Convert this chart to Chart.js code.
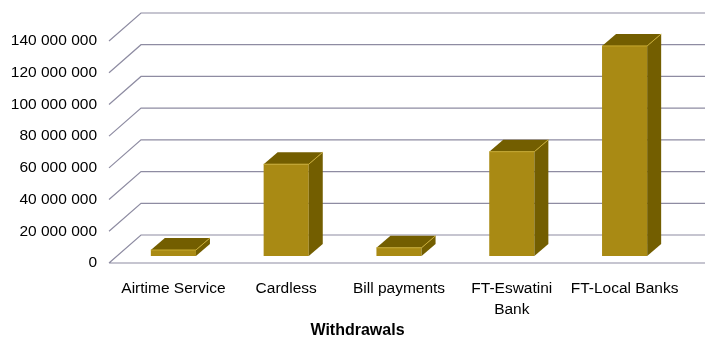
<!DOCTYPE html>
<html>
<head>
<meta charset="utf-8">
<title>Withdrawals</title>
<script src="https://cdn.jsdelivr.net/npm/chart.js@4.4.1/dist/chart.umd.min.js"></script>
<style>
  html, body { margin: 0; padding: 0; background: #fff; }
  #wrap { width: 705px; height: 340px; }
</style>
</head>
<body>
<div id="wrap"><canvas id="withdrawalsChart"></canvas></div>
<script>
// データ
var categories = ['Airtime Service', 'Cardless', 'Bill payments', 'FT-Eswatini Bank', 'FT-Local Banks'];
var withdrawalValues = [3800000, 57900000, 5200000, 65800000, 132500000];
var yTickValues = [0, 20000000, 40000000, 60000000, 80000000, 100000000, 120000000, 140000000];
var axisTitle = 'Withdrawals';

// 3D表現用の奥行き（ピクセル）
var FLOOR_DEPTH = { dx: 32, dy: -28 };   // 床・壁の奥行き
var BAR_SHIFT = { dx: 8, dy: -7 };       // 手前の面から棒の前面まで
var BAR_DEPTH = { dx: 14, dy: -12 };     // 棒の奥行き

var FRONT_COLOR = '#a98a14';
var SHADE_COLOR = '#735e00';
var EDGE_COLOR = 'rgba(206, 176, 52, 0.9)';
var GRID_COLOR = '#8e8ca2';

Chart.defaults.font.family = '"Liberation Sans", Arial, Helvetica, sans-serif';
Chart.defaults.color = '#000';

// 3桁区切り（スペース）
function formatNumber(v) {
  return String(v).replace(/\B(?=(\d{3})+(?!\d))/g, ' ');
}

// 長いラベルを2行に
function wrapLabel(text) {
  if (text.length <= 15) return text;
  var i = text.lastIndexOf(' ');
  return [text.slice(0, i), text.slice(i + 1)];
}

// 奥行きのあるグリッドと棒の上面・側面
var depthPlugin = {
  id: 'depth3d',
  beforeDatasetsDraw: function(chart) {
    var ctx = chart.ctx;
    var area = chart.chartArea;
    var yScale = chart.scales.y;
    ctx.save();
    ctx.strokeStyle = GRID_COLOR;
    ctx.lineWidth = 1.2;
    yScale.ticks.forEach(function(t) {
      var py = yScale.getPixelForValue(t.value);
      var fx = area.left - BAR_SHIFT.dx;
      var fy = py - BAR_SHIFT.dy;
      var bx = fx + FLOOR_DEPTH.dx;
      var by = fy + FLOOR_DEPTH.dy;
      ctx.beginPath();
      ctx.moveTo(fx, fy);
      ctx.lineTo(bx, by);
      ctx.lineTo(chart.width, by);
      if (t.value === 0) {
        ctx.moveTo(fx, fy);
        ctx.lineTo(chart.width, fy);
      }
      ctx.stroke();
    });
    ctx.restore();
  },
  afterDatasetsDraw: function(chart) {
    var ctx = chart.ctx;
    var meta = chart.getDatasetMeta(0);
    ctx.save();
    meta.data.forEach(function(bar) {
      var p = bar.getProps(['x', 'y', 'base', 'width'], true);
      var x0 = p.x - p.width / 2;
      var x1 = p.x + p.width / 2;
      var top = Math.min(p.y, p.base);
      var bottom = Math.max(p.y, p.base);
      var dx = BAR_DEPTH.dx, dy = BAR_DEPTH.dy;

      ctx.fillStyle = SHADE_COLOR;
      // 上面
      ctx.beginPath();
      ctx.moveTo(x0, top);
      ctx.lineTo(x1, top);
      ctx.lineTo(x1 + dx, top + dy);
      ctx.lineTo(x0 + dx, top + dy);
      ctx.closePath();
      ctx.fill();
      // 側面
      ctx.beginPath();
      ctx.moveTo(x1, top);
      ctx.lineTo(x1 + dx, top + dy);
      ctx.lineTo(x1 + dx, bottom + dy);
      ctx.lineTo(x1, bottom);
      ctx.closePath();
      ctx.fill();
      // ハイライトの縁
      ctx.strokeStyle = EDGE_COLOR;
      ctx.lineWidth = 1;
      ctx.beginPath();
      ctx.moveTo(x0, top);
      ctx.lineTo(x1, top);
      ctx.lineTo(x1 + dx, top + dy);
      ctx.stroke();
    });
    ctx.restore();
  }
};

var ctx = document.getElementById('withdrawalsChart').getContext('2d');

var withdrawalsChart = new Chart(ctx, {
  type: 'bar',
  data: {
    labels: categories,
    datasets: [
      {
        label: axisTitle,
        data: withdrawalValues,
        backgroundColor: FRONT_COLOR,
        borderWidth: 0,
        barPercentage: 1,
        categoryPercentage: 0.4
      }
    ]
  },
  options: {
    responsive: true,
    maintainAspectRatio: false,
    animation: false,
    layout: {
      padding: { left: 10, right: 0, top: 34, bottom: 0 }
    },
    scales: {
      x: {
        grid: { display: false, drawTicks: false },
        border: { display: false },
        afterFit: function(scale) { scale.height = 60.8; },
        ticks: {
          autoSkip: false,
          maxRotation: 0,
          padding: 21.6,
          font: { size: 15.5, lineHeight: 1.4 },
          color: '#000',
          callback: function(value) {
            return wrapLabel(this.getLabelForValue(value));
          }
        }
      },
      y: {
        min: yTickValues[0],
        max: yTickValues[yTickValues.length - 1],
        grid: { display: false, drawTicks: false },
        border: { display: false },
        afterFit: function(scale) { scale.width = 107; },
        afterBuildTicks: function(scale) {
          scale.ticks = yTickValues.map(function(v) { return { value: v }; });
        },
        ticks: {
          padding: 20,
          labelOffset: 7,
          font: { size: 15.5 },
          color: '#000',
          callback: function(value) {
            return formatNumber(value);
          }
        }
      },
      // 右側の余白（壁のグリッドが伸びる部分）
      yRight: {
        type: 'linear',
        position: 'right',
        grid: { display: false, drawTicks: false },
        border: { display: false },
        ticks: { display: false },
        afterFit: function(scale) { scale.width = 24; }
      }
    },
    plugins: {
      legend: { display: false },
      tooltip: { enabled: false },
      title: {
        display: true,
        position: 'bottom',
        text: axisTitle,
        color: '#000',
        font: { size: 16, weight: 'bold' },
        padding: { top: 4, bottom: 0 }
      }
    }
  },
  plugins: [depthPlugin]
});
</script>
</body>
</html>
